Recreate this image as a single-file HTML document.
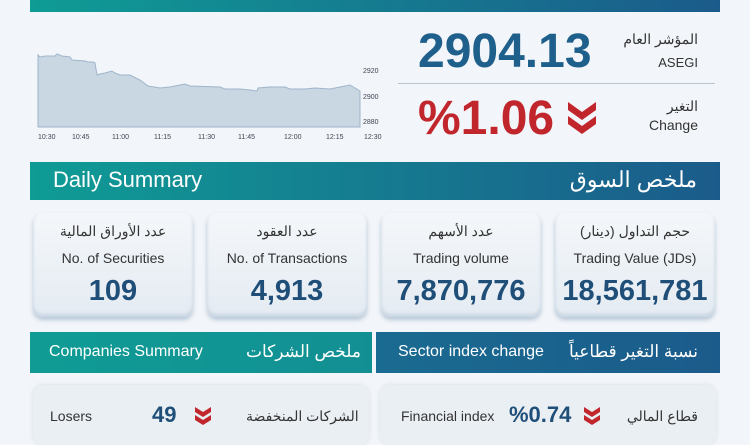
<!DOCTYPE html>
<html><head><meta charset="utf-8"><style>
body{margin:0;width:750px;height:430px;overflow:hidden;background:#f2f5f9;font-family:"Liberation Sans Narrow","Liberation Sans","Noto Sans CJK SC",sans-serif;position:relative}
.a{position:absolute}
.grad{background:linear-gradient(90deg,#0f9c95,#1b5b8b)}
.card{position:absolute;top:213px;width:160px;height:104px;border-radius:10px;background:linear-gradient(#f4f7fa,#e4ebf2);box-shadow:0 3px 4px #b8c8d8,inset 0 -3px 3px #c9d6e2;text-align:center;color:#333}
.card .ar{position:absolute;top:10px;width:100%;font-size:14px}
.card .en{position:absolute;top:37px;width:100%;font-size:14px}
.card .n{position:absolute;top:62px;width:100%;font-size:29px;font-weight:bold;color:#1f4f78}
</style></head><body>
<div class="a grad" style="left:30px;top:0;width:690px;height:12px"></div>
<svg class="a" style="left:0;top:0" width="400" height="150">
<path d="M38,55 L40,57 45,56 55,56 57,54 62,56 70,57 72,60 85,61 88,62 93,62 95,63 97,75 100,74 105,73 112,71 115,73 120,75 130,75 140,80 148,86 160,88 170,87 180,85 185,84 190,86 220,87 225,89 240,89 250,90 257,91 258,88 270,87 285,87 290,89 305,89 315,88 330,89 340,87 350,85 355,88 360,91 L360,127 L38,127Z" fill="#c9d7e3" stroke="#9fb5ca" stroke-width="1"/>
<g font-size="7" fill="#445" font-family="Liberation Sans Narrow,Liberation Sans,sans-serif">
<text x="363" y="73">2920</text><text x="363" y="99">2900</text><text x="363" y="124">2880</text>
<text x="38" y="139">10:30</text><text x="72" y="139">10:45</text><text x="112" y="139">11:00</text><text x="154" y="139">11:15</text><text x="198" y="139">11:30</text><text x="238" y="139">11:45</text><text x="284" y="139">12:00</text><text x="326" y="139">12:15</text><text x="364" y="139">12:30</text>
</g></svg>
<div class="a" style="left:418px;top:24px;font-size:48px;font-weight:bold;color:#1f5f8b">2904.13</div>
<div class="a" style="right:52px;top:31px;font-size:14px;color:#333">المؤشر العام</div>
<div class="a" style="right:52px;top:55px;font-size:13px;color:#333">ASEGI</div>
<div class="a" style="left:398px;top:83px;width:317px;height:1px;background:#b9c4cf"></div>
<div class="a" style="left:418px;top:91px;font-size:48px;font-weight:bold;color:#c0262c">%1.06</div>
<svg class="a" style="left:566px;top:100px" width="32" height="36"><path d="M2,2 L16,12 30,2 30,10 16,20 2,10Z M2,16 L16,26 30,16 30,24 16,34 2,24Z" fill="#c0262c"/></svg>
<div class="a" style="right:52px;top:98px;font-size:14px;color:#333">التغير</div>
<div class="a" style="right:52px;top:117px;font-size:14px;color:#333">Change</div>
<div class="a grad" style="left:30px;top:162px;width:690px;height:38px"></div>
<div class="a" style="left:53px;top:167px;font-size:22px;color:#fff">Daily Summary</div>
<div class="a" style="right:53px;top:167px;font-size:22px;color:#fff">ملخص السوق</div>
<div class="card" style="left:33px"><div class="ar">عدد الأوراق المالية</div><div class="en">No. of Securities</div><div class="n">109</div></div>
<div class="card" style="left:207px"><div class="ar">عدد العقود</div><div class="en">No. of Transactions</div><div class="n">4,913</div></div>
<div class="card" style="left:381px"><div class="ar">عدد الأسهم</div><div class="en">Trading volume</div><div class="n">7,870,776</div></div>
<div class="card" style="left:555px"><div class="ar">حجم التداول (دينار)</div><div class="en">Trading Value (JDs)</div><div class="n">18,561,781</div></div>
<div class="a" style="left:30px;top:332px;width:342px;height:41px;background:linear-gradient(90deg,#109c95,#128f93)"></div>
<div class="a" style="left:376px;top:332px;width:344px;height:41px;background:linear-gradient(90deg,#1a6b91,#1b5b8b)"></div>
<div class="a" style="left:49px;top:343px;font-size:16px;color:#fff">Companies Summary</div>
<div class="a" style="left:246px;top:342px;font-size:17px;color:#fff">ملخص الشركات</div>
<div class="a" style="left:398px;top:343px;font-size:16px;color:#fff">Sector index change</div>
<div class="a" style="right:52px;top:342px;font-size:17px;color:#fff">نسبة التغير قطاعياً</div>
<div class="a" style="left:33px;top:385px;width:336px;height:60px;border-radius:10px;background:#eaeff4;box-shadow:0 0 4px #d5dfe8"></div>
<div class="a" style="left:380px;top:385px;width:336px;height:60px;border-radius:10px;background:#eaeff4;box-shadow:0 0 4px #d5dfe8"></div>
<div class="a" style="left:50px;top:408px;font-size:14px;color:#333">Losers</div>
<div class="a" style="left:152px;top:402px;font-size:22px;font-weight:bold;color:#1f4f78">49</div>
<svg class="a" style="left:194px;top:406px" width="18" height="20"><path d="M1,1 L9,6 17,1 17,6 9,11 1,6Z M1,9 L9,14 17,9 17,14 9,19 1,14Z" fill="#c0262c"/></svg>
<div class="a" style="left:246px;top:408px;font-size:14px;color:#333">الشركات المنخفضة</div>
<div class="a" style="left:401px;top:408px;font-size:14px;color:#333">Financial index</div>
<div class="a" style="left:509px;top:402px;font-size:22px;font-weight:bold;color:#1f4f78">%0.74</div>
<svg class="a" style="left:583px;top:406px" width="18" height="20"><path d="M1,1 L9,6 17,1 17,6 9,11 1,6Z M1,9 L9,14 17,9 17,14 9,19 1,14Z" fill="#c0262c"/></svg>
<div class="a" style="right:52px;top:408px;font-size:14px;color:#333">قطاع المالي</div>
</body></html>
